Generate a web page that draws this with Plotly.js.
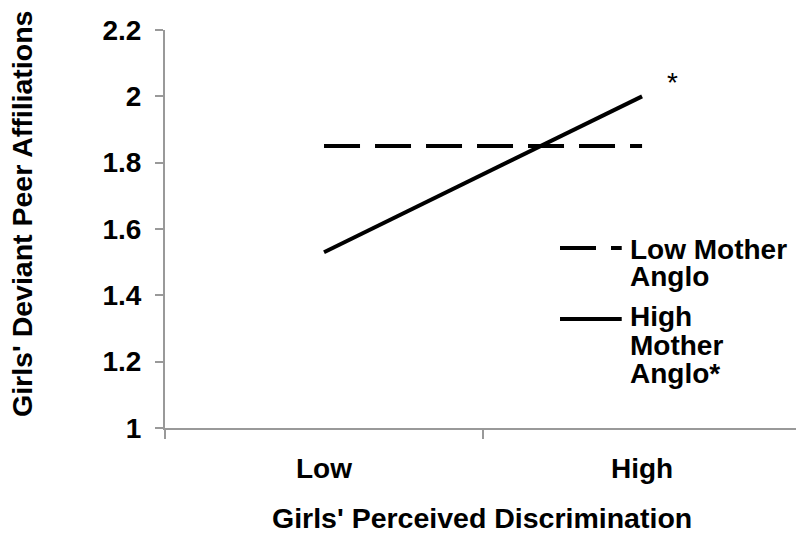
<!DOCTYPE html>
<html>
<head>
<meta charset="utf-8">
<script src="https://cdn.plot.ly/plotly-3.0.1.min.js"></script>
<style>html,body{margin:0;padding:0;background:#fff;}#chart{width:796px;height:538px;}</style>
</head>
<body>
<div id="chart"></div>
<script>
// ---- data ----
const categories = ['Low', 'High'];
const lowMotherAnglo = [1.85, 1.85];
const highMotherAnglo = [1.53, 2.0];
const yTickValues = [1, 1.2, 1.4, 1.6, 1.8, 2, 2.2];
const seriesNames = ['Low Mother<br>Anglo', 'High<br>Mother<br>Anglo*'];
const xTitle = "Girls' Perceived Discrimination";
const yTitle = "Girls' Deviant Peer Affiliations";
const sigMark = '*';

const FONT = 'Liberation Sans, Arial, sans-serif';
const AX = '#999999';

const traces = [
  {x: categories, y: lowMotherAnglo, type: 'scatter', mode: 'lines', name: seriesNames[0],
   line: {color: '#000', width: 4, dash: '36px,15px'}, hoverinfo: 'skip'},
  {x: categories, y: highMotherAnglo, type: 'scatter', mode: 'lines', name: seriesNames[1],
   line: {color: '#000', width: 4}, hoverinfo: 'skip'}
];

const bold = (s) => ({family: FONT, size: s, color: '#000', weight: 'bold'});

const legendLines0 = seriesNames[0].split('<br>');
const legendLines1 = seriesNames[1].split('<br>');
const annotations = [
  {xref: 'paper', yref: 'paper', x: -0.2266, y: 0.5377, text: yTitle, textangle: -90,
   showarrow: false, xanchor: 'center', yanchor: 'middle', font: bold(28.5)},
  {xref: 'paper', yref: 'paper', x: 0.5024, y: -0.226, text: xTitle,
   showarrow: false, xanchor: 'center', yanchor: 'middle', font: bold(28.5)},
  {x: categories[1], y: highMotherAnglo[1], text: sigMark, showarrow: false, xshift: 30, yshift: 14,
   font: {family: FONT, size: 28, color: '#000'}}
];
const legYs0 = [0.4497, 0.3794];
const legYs1 = [0.2789, 0.2085, 0.1357];
legendLines0.forEach((t, i) => annotations.push({xref: 'paper', yref: 'paper', x: 0.7338, y: legYs0[i], text: t,
  showarrow: false, xanchor: 'left', yanchor: 'middle', font: bold(28)}));
legendLines1.forEach((t, i) => annotations.push({xref: 'paper', yref: 'paper', x: 0.7338, y: legYs1[i], text: t,
  showarrow: false, xanchor: 'left', yanchor: 'middle', font: bold(28)}));

const shapes = [
  {type: 'line', xref: 'paper', yref: 'paper', x0: 0.626, x1: 0.7238, y0: 0.4523, y1: 0.4523,
   line: {color: '#000', width: 4, dash: '36px,15px'}},
  {type: 'line', xref: 'paper', yref: 'paper', x0: 0.626, x1: 0.7238, y0: 0.2739, y1: 0.2739,
   line: {color: '#000', width: 4}}
];

const layout = {
  width: 796, height: 538,
  margin: {l: 165, r: 0, t: 30, b: 110},
  paper_bgcolor: '#fff', plot_bgcolor: '#fff',
  showlegend: false,
  xaxis: {
    type: 'category', range: [-0.5, 1.484], tickson: 'boundaries',
    showline: true, linecolor: AX, linewidth: 2, showgrid: false, zeroline: false,
    ticks: 'outside', ticklen: 9, tickwidth: 2, tickcolor: AX,
    tickfont: bold(28), ticklabelstandoff: 14
  },
  yaxis: {
    range: [1, 2.2], tickvals: yTickValues, ticktext: yTickValues.map(String),
    showline: true, linecolor: AX, linewidth: 2, showgrid: false, zeroline: false,
    ticks: 'outside', ticklen: 8, tickwidth: 2, tickcolor: AX,
    tickfont: bold(28), ticklabelstandoff: 8
  },
  annotations: annotations,
  shapes: shapes
};

Plotly.newPlot('chart', traces, layout, {displayModeBar: false, staticPlot: true});
</script>
</body>
</html>
